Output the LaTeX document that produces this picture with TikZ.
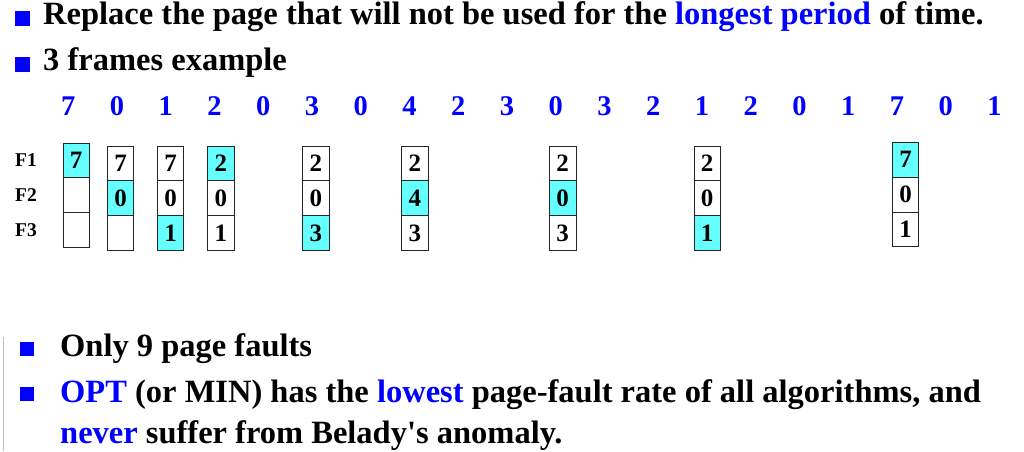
\documentclass[tikz,border=0pt]{standalone}
\usepackage{fontspec}
\setmainfont{Liberation Serif}
\usetikzlibrary{positioning}

\definecolor{refblue}{HTML}{0000FF}
\definecolor{faultcyan}{HTML}{66FFFF}

\begin{document}
\begin{tikzpicture}[
    x=1pt, y=-1pt,
    bullet/.style={rectangle, fill=refblue, inner sep=0pt, minimum size=15pt},
    subbullet/.style={bullet, minimum size=14pt},
    textline/.style={anchor=base west, inner sep=0pt, font=\fontsize{32.5}{38}\selectfont\bfseries},
    refnum/.style={anchor=base, inner sep=0pt, text=refblue, font=\fontsize{28.5}{32}\selectfont\bfseries},
    framelabel/.style={inner sep=0pt, font=\fontsize{19.5}{22}\selectfont\bfseries},
    cell/.style={rectangle, draw=black!85, line width=0.8pt, minimum width=26.5pt, minimum height=34.8pt, inner sep=0pt, outer sep=0pt, font=\fontsize{25}{28}\selectfont\bfseries},
    fault/.style={cell, fill=faultcyan}
]
\useasboundingbox (0,0) rectangle (1024,451);

% Header bullets
\node[bullet] (b1) at (22,18.5) {};
\node[textline] (replace) at (43,24.5) {Replace the page that will not be used for the \textcolor{refblue}{longest period} of time.};
\node[bullet] (b2) at (22,64.5) {};
\node[textline] (example) at (43,70.7) {3 frames example};

% Reference string
\foreach \v [count=\i from 0] in {7,0,1,2,0,3,0,4,2,3,0,3,2,1,2,0,1,7,0,1}
    \node[refnum] (ref\i) at ({68.3+48.75*\i},115) {\v};

% Frames after each fault
\node[fault] (c1a) at (76.2,160.4) {7};
\node[cell, below=0pt of c1a] (c1b) {};
\node[cell, below=0pt of c1b] (c1c) {};

\node[cell] (c2a) at (120.6,163.4) {7};
\node[fault, below=0pt of c2a] (c2b) {0};
\node[cell, below=0pt of c2b] (c2c) {};

\node[cell] (c3a) at (170.6,163.4) {7};
\node[cell, below=0pt of c3a] (c3b) {0};
\node[fault, below=0pt of c3b] (c3c) {1};

\node[fault] (c4a) at (220.8,163.4) {2};
\node[cell, below=0pt of c4a] (c4b) {0};
\node[cell, below=0pt of c4b] (c4c) {1};

\node[cell] (c5a) at (315.8,163.4) {2};
\node[cell, below=0pt of c5a] (c5b) {0};
\node[fault, below=0pt of c5b] (c5c) {3};

\node[cell] (c6a) at (414.8,163.4) {2};
\node[fault, below=0pt of c6a] (c6b) {4};
\node[cell, below=0pt of c6b] (c6c) {3};

\node[cell] (c7a) at (562.7,163.4) {2};
\node[fault, below=0pt of c7a] (c7b) {0};
\node[cell, below=0pt of c7b] (c7c) {3};

\node[cell] (c8a) at (707.2,163.4) {2};
\node[cell, below=0pt of c8a] (c8b) {0};
\node[fault, below=0pt of c8b] (c8c) {1};

\node[fault] (c9a) at (905.5,159.7) {7};
\node[cell, below=0pt of c9a] (c9b) {0};
\node[cell, below=0pt of c9b] (c9c) {1};

% Frame labels
\node[framelabel, left=26pt of c1a] (f1) {F1};
\node[framelabel, left=26pt of c1b] (f2) {F2};
\node[framelabel, left=26pt of c1c] (f3) {F3};

% Summary
\coordinate (bartop) at (3.5,337);
\coordinate (barbot) at (3.5,451);
\draw[black!25, line width=1pt] (bartop) -- (barbot);

\node[subbullet] (b3) at (26.5,348.5) {};
\node[textline] (faults) at (60,356.5) {Only 9 page faults};
\node[subbullet] (b4) at (26.5,394) {};
\node[textline] (opt) at (60,402.5) {\textcolor{refblue}{OPT} (or MIN) has the \textcolor{refblue}{lowest} page-fault rate of all algorithms, and};
\node[textline] (never) at (60,443) {\textcolor{refblue}{never} suffer from Belady\textquotesingle s anomaly.};

\end{tikzpicture}
\end{document}
